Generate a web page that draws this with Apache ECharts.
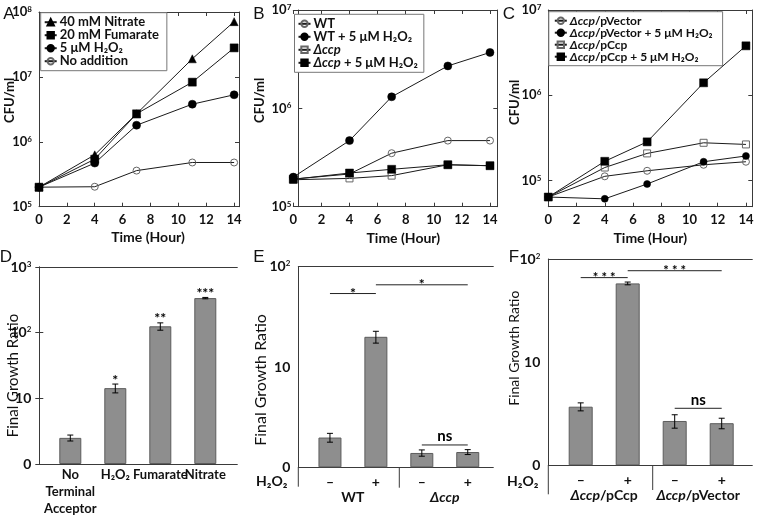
<!DOCTYPE html>
<html><head><meta charset="utf-8">
<script src="https://cdn.jsdelivr.net/npm/echarts@6/dist/echarts.min.js"></script>
<style>html,body{margin:0;padding:0;background:#fff}#c{width:757px;height:518px}</style>
</head><body><div id="c"></div>
<script>
// ---------- data ----------
const hours = [0, 4, 7, 11, 14];
const tickHours = [0, 2, 4, 6, 8, 10, 12, 14];
// Panel A (CFU/ml)
const aNitrate  = [2.0e5, 6.3e5, 2.7e6, 1.9e7, 7.1e7];
const aFumarate = [2.0e5, 5.4e5, 2.7e6, 8.3e6, 2.8e7];
const aH2O2     = [2.0e5, 4.7e5, 1.8e6, 3.8e6, 5.3e6];
const aNone     = [2.0e5, 2.03e5, 3.6e5, 4.8e5, 4.8e5];
const aNames = ['40 mM Nitrate', '20 mM Fumarate', '5 μM H₂O₂', 'No addition'];
// Panel B
const bWT      = [1.91e5, 2.15e5, 3.5e5, 4.7e5, 4.7e5];
const bWTH2O2  = [2.0e5, 4.7e5, 1.31e6, 2.7e6, 3.7e6];
const bCcp     = [1.88e5, 1.94e5, 2.07e5, 2.67e5, 2.61e5];
const bCcpH2O2 = [1.9e5, 2.2e5, 2.4e5, 2.67e5, 2.61e5];
const bNames = ['WT', 'WT + 5 μM H₂O₂', 'Δccp', 'Δccp + 5 μM H₂O₂'];
// Panel C
const cVec      = [6.4e4, 1.12e5, 1.3e5, 1.53e5, 1.66e5];
const cVecH2O2  = [6.4e4, 6.1e4, 9.1e4, 1.66e5, 1.94e5];
const cCcp      = [6.4e4, 1.42e5, 2.08e5, 2.77e5, 2.65e5];
const cCcpH2O2  = [6.4e4, 1.68e5, 2.84e5, 1.4e6, 3.8e6];
const cNames = ['Δccp/pVector', 'Δccp/pVector + 5 μM H₂O₂', 'Δccp/pCcp', 'Δccp/pCcp + 5 μM H₂O₂'];
// Panel D (final growth ratio)
const dCats  = ['No\nTerminal\nAcceptor', 'H₂O₂', 'Fumarate', 'Nitrate'];
const dVals  = [2.5, 14.3, 125, 336];
const dErr   = [0.26, 2.2, 16, 8];
const dStars = ['', '*', '**', '***'];
// Panel E
const eCats   = ['–', '+', '–', '+'];
const eGroups = ['WT', 'Δccp'];
const eVals   = [1.98, 20, 1.39, 1.42];
const eErr    = [0.2, 2.7, 0.1, 0.08];
const eBrFrom = [0, 1, 2];
const eBrTo   = [1, 3, 3];
const eBrY    = [54, 66, 1.67];
const eBrText = ['*', '*', 'ns'];
// Panel F
const fCats   = ['–', '+', '–', '+'];
const fGroups = ['Δccp/pCcp', 'Δccp/pVector'];
const fVals   = [3.7, 58, 2.69, 2.56];
const fErr    = [0.33, 1.8, 0.4, 0.3];
const fBrFrom = [0, 1, 2];
const fBrTo   = [1, 3, 3];
const fBrY    = [66, 77, 3.57];
const fBrText = ['* * *', '* * *', 'ns'];

// ---------- helpers ----------
const FONT = 'Lato';
const AX = '#3a3a3a';
const TXT = '#111';
function powLabel(v) {
  const e = Math.log10(v), r = Math.round(e);
  if (Math.abs(e - r) > 0.02) return '';
  return '10{s|' + r + '}';
}
function ratioLabel(v) {
  const e = Math.log10(v), r = Math.round(e);
  if (Math.abs(e - r) > 0.02) return '';
  if (r === 0) return '0';
  if (r === 1) return '10';
  return '10{s|' + r + '}';
}
function hourLabel(v) {
  return tickHours.indexOf(Math.round(v * 1000) / 1000) >= 0 ? String(v) : '';
}
const supRich = {s: {fontFamily: FONT, fontWeight: 'bold', fontSize: 8, color: TXT, verticalAlign: 'top', lineHeight: 8}};
const lblStyle = {fontFamily: FONT, fontWeight: 'bold', fontSize: 13, color: TXT};
const itRich = {it: {fontFamily: FONT, fontWeight: 'bold', fontStyle: 'italic', fontSize: 14, color: TXT}};
function ccpFmt(name) { return name.replace('Δccp', '{it|Δccp}'); }

function timeAxes(grid, max, namePad, nameGap) {
  const line = {show: true, onZero: false, lineStyle: {color: AX, width: 1}};
  const tick = {show: true, inside: true, length: 4, lineStyle: {color: AX}};
  return [
    {type: 'value', gridIndex: grid, position: 'bottom', min: 0, max: max, interval: 2,
     axisLine: line, axisTick: tick, splitLine: {show: false},
     axisLabel: Object.assign({margin: 7, formatter: hourLabel}, lblStyle),
     name: 'Time (Hour)', nameLocation: 'middle', nameGap: nameGap, nameMoveOverlap: false,
     nameTextStyle: {fontFamily: FONT, fontWeight: 'bold', fontSize: 14, color: TXT, padding: namePad}},
    {type: 'value', gridIndex: grid, position: 'top', min: 0, max: max, interval: 2,
     axisLine: line, axisTick: tick, splitLine: {show: false}, axisLabel: {show: false}}
  ];
}
function cfuAxes(grid, min, max, offset, nameGap, namePad) {
  const line = {show: true, onZero: false, lineStyle: {color: AX, width: 1}};
  const tick = {show: true, inside: true, length: 4, lineStyle: {color: AX}};
  return [
    {type: 'log', logBase: 10, gridIndex: grid, position: 'left', min: min, max: max, offset: offset,
     axisLine: line, axisTick: tick, splitLine: {show: false}, minorTick: {show: false},
     axisLabel: Object.assign({margin: 7, formatter: powLabel, rich: supRich}, lblStyle),
     name: 'CFU/ml', nameLocation: 'middle', nameGap: nameGap, nameMoveOverlap: false,
     nameTextStyle: {fontFamily: FONT, fontWeight: 'bold', fontSize: 13, color: TXT, padding: namePad}},
    {type: 'log', logBase: 10, gridIndex: grid, position: 'right', min: min, max: max,
     axisLine: line, axisTick: tick, splitLine: {show: false}, axisLabel: {show: false}}
  ];
}
function frameX(grid, pos) {
  return {type: 'value', gridIndex: grid, position: pos, min: 0, max: 1,
    axisLine: {show: true, onZero: false, lineStyle: {color: AX}}, axisTick: {show: false},
    axisLabel: {show: false}, splitLine: {show: false}};
}
function ratioAxis(grid, max, nameGap, namePad, fontSize, ticks) {
  return {type: 'log', logBase: 10, gridIndex: grid, position: 'left', min: 1, max: max,
    axisLine: {show: true, lineStyle: {color: AX}},
    axisTick: {show: ticks, inside: true, length: 4, lineStyle: {color: AX}},
    splitLine: {show: false}, minorTick: {show: false},
    axisLabel: Object.assign({margin: 8, formatter: ratioLabel, rich: supRich}, lblStyle, {fontSize: 14}),
    name: 'Final Growth Ratio', nameLocation: 'middle', nameGap: nameGap, nameMoveOverlap: false,
    nameTextStyle: {fontFamily: FONT, fontSize: fontSize, color: TXT, padding: namePad}};
}
function hiddenLog(grid, max) {
  return {type: 'log', logBase: 10, gridIndex: grid, min: 1, max: max, show: false};
}
function catAxis(grid, data, margin, rich, fontSize, lineHeight) {
  return {type: 'category', gridIndex: grid, position: 'bottom', data: data,
    axisLine: {show: false}, axisTick: {show: false},
    axisLabel: Object.assign({interval: 0, margin: margin, lineHeight: lineHeight,
      formatter: rich ? ccpFmt : null, rich: rich ? itRich : undefined}, lblStyle, {fontSize: fontSize})};
}

function lineSeries(name, vals, xi, yi, sym, open, size) {
  return {
    type: 'line', name: name, xAxisIndex: xi, yAxisIndex: yi,
    data: hours.map((h, i) => [h, vals[i]]),
    symbol: sym, symbolSize: size, showSymbol: true, clip: false,
    lineStyle: {color: '#1a1a1a', width: 1},
    itemStyle: open ? {color: 'rgba(255,255,255,0)', borderColor: '#666', borderWidth: 1}
                    : {color: '#000', borderColor: '#000', borderWidth: 0.5},
    emphasis: {disabled: true}, z: open ? 3 : 4
  };
}

function errRender(stars, starSize) {
  return function (params, api) {
    const i = api.value(0), v = api.value(1), e = api.value(2);
    const top = api.coord([i, v + e]), bot = api.coord([i, v - e]);
    const w = 3;
    const st = {stroke: '#000', lineWidth: 1};
    const ch = [
      {type: 'line', shape: {x1: top[0], y1: top[1], x2: bot[0], y2: bot[1]}, style: st},
      {type: 'line', shape: {x1: top[0] - w, y1: top[1], x2: top[0] + w, y2: top[1]}, style: st},
      {type: 'line', shape: {x1: bot[0] - w, y1: bot[1], x2: bot[0] + w, y2: bot[1]}, style: st}
    ];
    const s = stars ? stars[params.dataIndex] : '';
    if (s) ch.push({type: 'text', x: top[0], y: top[1] + 3,
      style: {text: s, fill: '#000', fontFamily: FONT, fontWeight: 'bold', fontSize: starSize,
              align: 'center', verticalAlign: 'bottom'}});
    return {type: 'group', children: ch};
  };
}
function bracketRender(texts, starSize) {
  return function (params, api) {
    const y = api.value(2);
    const a = api.coord([api.value(0), y]), b = api.coord([api.value(1), y]);
    const t = texts[params.dataIndex];
    const isStar = t.indexOf('*') >= 0;
    return {type: 'group', children: [
      {type: 'line', shape: {x1: a[0], y1: a[1], x2: b[0], y2: b[1]}, style: {stroke: '#222', lineWidth: 1}},
      {type: 'text', x: (a[0] + b[0]) / 2, y: a[1] + (isStar ? 7 : -1),
       style: {text: t, fill: '#000', fontFamily: FONT, fontWeight: 'bold',
               fontSize: isStar ? starSize : 15, align: 'center', verticalAlign: 'bottom'}}
    ]};
  };
}
function barSeries(vals, xi, yi, width) {
  return {type: 'bar', data: vals, xAxisIndex: xi, yAxisIndex: yi, barWidth: width,
    itemStyle: {color: '#8e8e8e', borderColor: '#5c5c5c', borderWidth: 1},
    emphasis: {disabled: true}};
}
function errSeries(vals, errs, xi, yi, stars, size) {
  return {type: 'custom', xAxisIndex: xi, yAxisIndex: yi, z: 5,
    data: vals.map((v, i) => [i, v, errs[i]]), encode: {x: 0, y: 1},
    renderItem: errRender(stars, size)};
}
function bracketSeries(from, to, ys, texts, xi, yi, size) {
  return {type: 'custom', xAxisIndex: xi, yAxisIndex: yi, z: 5,
    data: from.map((f, i) => [f, to[i], ys[i]]), encode: {x: [0, 1], y: 2},
    renderItem: bracketRender(texts, size)};
}
function legendOpt(names, left, top, fontSize, lineH, pad) {
  return {data: names, orient: 'vertical', left: left, top: top, padding: pad,
    itemWidth: 12, itemHeight: 8, itemGap: 0,
    borderColor: '#777', borderWidth: 1, backgroundColor: '#fff',
    selectedMode: false, formatter: ccpFmt,
    textStyle: {fontFamily: FONT, fontWeight: 'bold', fontSize: fontSize, color: TXT, lineHeight: lineH,
      padding: [0, 0, 0, -2],
      rich: {it: {fontFamily: FONT, fontWeight: 'bold', fontStyle: 'italic', fontSize: fontSize, color: TXT, lineHeight: lineH}}}};
}

const G = (l, t, w, h) => ({left: l, top: t, width: w, height: h, containLabel: false, outerBoundsMode: 'none'});

const option = {
  animation: false,
  backgroundColor: '#fff',
  textStyle: {fontFamily: FONT},
  grid: [
    G(39, 12, 200, 194.7),        // 0 A
    G(293.3, 10, 204, 196.7),     // 1 B
    G(548.3, 10, 204, 196.7),     // 2 C
    G(39.3, 267, 198, 197),       // 3 D frame
    G(47.8, 267, 180, 197),       // 4 D bars
    G(298.3, 266.7, 195, 200.6),  // 5 E frame
    G(307, 266.7, 183.7, 200.6),  // 6 E bars
    G(307, 266.7, 183.7, 200.6),  // 7 E groups
    G(548.3, 259, 204, 206.3),    // 8 F frame
    G(557.2, 259, 188, 206.3),    // 9 F bars
    G(557.2, 259, 188, 206.3)     // 10 F groups
  ],
  xAxis: [].concat(
    timeAxes(0, 14.35, [0, 0, 0, 18], 24),   // 0,1
    timeAxes(1, 14.52, [0, 0, 0, 16], 25),   // 2,3
    timeAxes(2, 14.45, [0, 0, 0, 0], 25),    // 4,5
    [frameX(3, 'bottom'), frameX(3, 'top'),  // 6,7
     catAxis(4, dCats, 2, false, 13, 17),    // 8
     frameX(5, 'bottom'), frameX(5, 'top'),  // 9,10
     catAxis(6, eCats, 7, false, 14, 17),    // 11
     catAxis(7, eGroups, 22, true, 14, 17),  // 12
     frameX(8, 'bottom'), frameX(8, 'top'),  // 13,14
     catAxis(9, fCats, 7, false, 14, 17),    // 15
     catAxis(10, fGroups, 22, true, 14, 17)] // 16
  ),
  yAxis: [].concat(
    cfuAxes(0, 1e5, 1e8, 0, 23, [0, 0, 0, 18]),     // 0,1
    cfuAxes(1, 1e5, 1e7, -5, 32, [0, 0, 0, 16]),    // 2,3
    cfuAxes(2, 4.93e4, 1e7, 0, 27, [0, 0, 0, 12]),  // 4,5
    [ratioAxis(3, 1000, 19, [0, 20, 0, 0], 15, true),  // 6
     {type: 'log', logBase: 10, gridIndex: 3, position: 'right', min: 1, max: 1000,
      axisLine: {show: true, lineStyle: {color: AX}},
      axisTick: {show: true, inside: true, length: 4, lineStyle: {color: AX}},
      axisLabel: {show: false}, splitLine: {show: false}},   // 7
     hiddenLog(4, 1000),                              // 8
     ratioAxis(5, 100, 29, [0, 26, 0, 0], 16, false), // 9
     hiddenLog(6, 100),                               // 10
     hiddenLog(7, 100),                               // 11
     ratioAxis(8, 100, 27, [0, 0, 0, 28], 14, false), // 12
     hiddenLog(9, 100),                               // 13
     hiddenLog(10, 100)]                              // 14
  ),
  legend: [
    legendOpt(aNames, 40.7, 12.7, 13, 12, [3, 8, 3, 3]),
    legendOpt(bNames, 294.5, 14.3, 13, 11, [3, 6, 3, 3]),
    legendOpt(cNames, 548.8, 11.7, 12, 10, [3, 10, 3, 5])
  ],
  series: [
    lineSeries(aNames[0], aNitrate, 0, 0, 'triangle', false, 8),
    lineSeries(aNames[1], aFumarate, 0, 0, 'rect', false, 8),
    lineSeries(aNames[2], aH2O2, 0, 0, 'circle', false, 8),
    lineSeries(aNames[3], aNone, 0, 0, 'circle', true, 7),
    lineSeries(bNames[0], bWT, 2, 2, 'circle', true, 7),
    lineSeries(bNames[1], bWTH2O2, 2, 2, 'circle', false, 8),
    lineSeries(bNames[2], bCcp, 2, 2, 'rect', true, 7),
    lineSeries(bNames[3], bCcpH2O2, 2, 2, 'rect', false, 8),
    lineSeries(cNames[0], cVec, 4, 4, 'circle', true, 7),
    lineSeries(cNames[1], cVecH2O2, 4, 4, 'circle', false, 7),
    lineSeries(cNames[2], cCcp, 4, 4, 'rect', true, 7),
    lineSeries(cNames[3], cCcpH2O2, 4, 4, 'rect', false, 8),
    barSeries(dVals, 8, 8, 22),
    errSeries(dVals, dErr, 8, 8, dStars, 14),
    barSeries(eVals, 11, 10, 23),
    errSeries(eVals, eErr, 11, 10, null, 14),
    bracketSeries(eBrFrom, eBrTo, eBrY, eBrText, 11, 10, 14),
    barSeries(fVals, 15, 13, 24),
    errSeries(fVals, fErr, 15, 13, null, 14),
    bracketSeries(fBrFrom, fBrTo, fBrY, fBrText, 15, 13, 13)
  ],
  graphic: [
    {type: 'text', x: 9, y: 14.5, style: {text: 'A', fontFamily: 'Liberation Sans', fontSize: 17, fill: '#111', align: 'center', verticalAlign: 'middle'}},
    {type: 'text', x: 259, y: 14, style: {text: 'B', fontFamily: 'Liberation Sans', fontSize: 17, fill: '#111', align: 'center', verticalAlign: 'middle'}},
    {type: 'text', x: 509, y: 14, style: {text: 'C', fontFamily: 'Liberation Sans', fontSize: 17, fill: '#111', align: 'center', verticalAlign: 'middle'}},
    {type: 'text', x: 6, y: 257, style: {text: 'D', fontFamily: 'Liberation Sans', fontSize: 17, fill: '#111', align: 'center', verticalAlign: 'middle'}},
    {type: 'text', x: 259, y: 257, style: {text: 'E', fontFamily: 'Liberation Sans', fontSize: 17, fill: '#111', align: 'center', verticalAlign: 'middle'}},
    {type: 'text', x: 514, y: 257, style: {text: 'F', fontFamily: 'Liberation Sans', fontSize: 17, fill: '#111', align: 'center', verticalAlign: 'middle'}},
    {type: 'text', x: 271.7, y: 481.7, style: {text: 'H₂O₂', fontFamily: FONT, fontWeight: 'bold', fontSize: 14, fill: TXT, align: 'center', verticalAlign: 'middle'}},
    {type: 'text', x: 522.7, y: 481.7, style: {text: 'H₂O₂', fontFamily: FONT, fontWeight: 'bold', fontSize: 14, fill: TXT, align: 'center', verticalAlign: 'middle'}},
    {type: 'line', shape: {x1: 298.3, y1: 467.3, x2: 298.3, y2: 486.7}, style: {stroke: AX, lineWidth: 1}},
    {type: 'line', shape: {x1: 399.3, y1: 467.3, x2: 399.3, y2: 487.7}, style: {stroke: AX, lineWidth: 1}},
    {type: 'line', shape: {x1: 548.3, y1: 465.3, x2: 548.3, y2: 494.3}, style: {stroke: AX, lineWidth: 1}},
    {type: 'line', shape: {x1: 652.7, y1: 465.3, x2: 652.7, y2: 490}, style: {stroke: AX, lineWidth: 1}}
  ]
};
const chart = echarts.init(document.getElementById('c'), null, {renderer: 'canvas', width: 757, height: 518});
chart.setOption(option);
</script>
</body></html>
